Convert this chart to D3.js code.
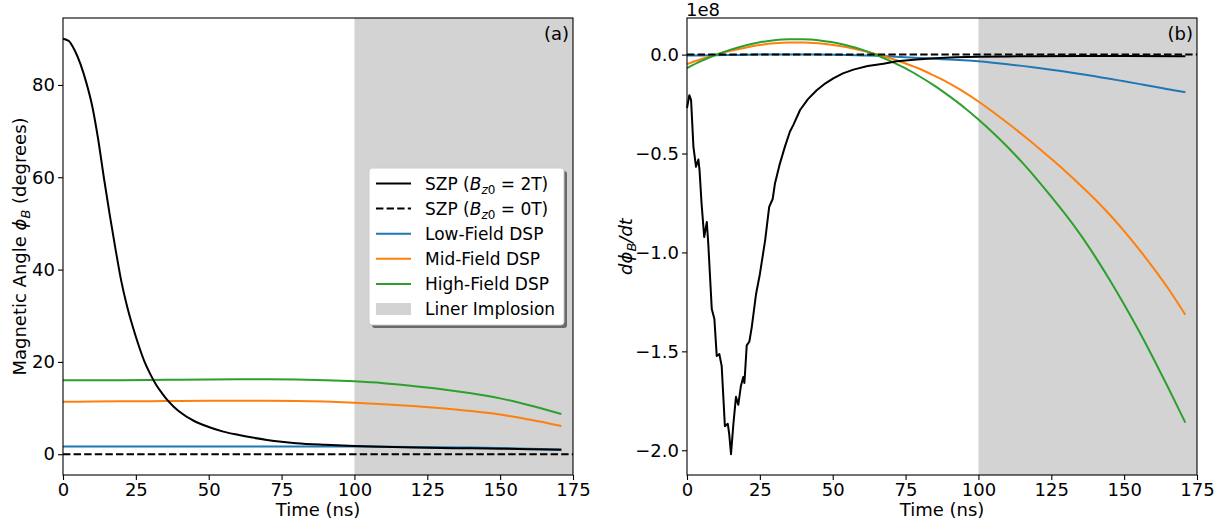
<!DOCTYPE html>
<html>
<head>
<meta charset="utf-8">
<script src="https://cdn.jsdelivr.net/npm/d3@7"></script>
<style>
  body { margin: 0; background: #fff; }
  svg { font-family: "DejaVu Sans", sans-serif; }
</style>
</head>
<body>
<svg id="chart" width="1226" height="522"></svg>
<script>
// ---- panel (a): magnetic angle (degrees) ----
const tSzp = [0, 2, 4, 6, 8, 10, 12, 14, 16, 18, 20, 22, 24, 26, 28, 30, 32, 34, 36, 38, 40,
              45, 50, 55, 60, 65, 70, 75, 80, 90, 100, 110, 120, 130, 140, 150, 160, 171];
const phiSzp = [90, 89.5, 87.5, 84.5, 80.5, 75.5, 68.5, 60, 52, 44.5, 37.5, 32, 27.5, 23.5, 20, 17.3,
                15.0, 13.2, 11.6, 10.3, 9.2, 7.2, 5.9, 4.9, 4.2, 3.6, 3.1, 2.7, 2.4, 2.05, 1.8, 1.6,
                1.45, 1.35, 1.28, 1.2, 1.1, 0.95];

const tDsp = [0, 10, 20, 30, 40, 50, 60, 70, 80, 90, 100, 110, 120, 130, 140, 150, 160, 171];
const phiLow  = [1.65, 1.65, 1.65, 1.65, 1.65, 1.65, 1.65, 1.65, 1.65, 1.65, 1.65, 1.6, 1.55, 1.5, 1.45, 1.35, 1.2, 1.0];
const phiMid  = [11.35, 11.4, 11.45, 11.5, 11.55, 11.6, 11.6, 11.6, 11.55, 11.4, 11.15, 10.85, 10.45, 9.95, 9.35, 8.6, 7.5, 6.1];
const phiHigh = [16.0, 16.0, 16.05, 16.1, 16.15, 16.2, 16.25, 16.25, 16.2, 16.05, 15.8, 15.4, 14.8, 14.1, 13.2, 12.1, 10.6, 8.7];

// ---- panel (b): d(phi)/dt, in units of 1e8 ----
const tDSzp = [0, 0.8, 1.4, 2.2, 3.1, 3.9, 4.3, 5.0, 5.9, 6.8, 7.3, 8.5, 9.4, 10.2, 11.1, 11.9, 13.0, 14.0,
               14.5, 15.1, 15.9, 16.8, 17.6, 18.5, 19.3, 19.7, 20.5, 21.4, 22.2, 23.7, 25.0, 26.8, 28.2,
               29.4, 30.2, 31.7, 33.6, 35.3, 36.5, 38.8, 41.5, 44.5, 47.5, 50.2, 53.5, 57.1, 62, 67.4,
               72, 78.8, 85, 92, 100, 110, 120, 135, 150, 171];
const dSzp = [-0.27, -0.205, -0.23, -0.465, -0.567, -0.53, -0.584, -0.753, -0.922, -0.846, -0.956, -1.286,
              -1.337, -1.523, -1.514, -1.574, -1.878, -1.866, -1.92, -2.02, -1.87, -1.73, -1.77, -1.675,
              -1.63, -1.66, -1.47, -1.45, -1.38, -1.21, -1.11, -0.94, -0.77, -0.73, -0.65, -0.56, -0.465,
              -0.39, -0.355, -0.28, -0.225, -0.18, -0.145, -0.12, -0.095, -0.076, -0.058, -0.046, -0.034,
              -0.025, -0.018, -0.014, -0.011, -0.009, -0.008, -0.007, -0.007, -0.008];

const tDDsp = [0, 5, 10, 15, 20, 25, 30, 35, 40, 45, 50, 55, 60, 65, 70, 75, 80, 85, 90, 95,
               100, 105, 110, 115, 120, 125, 130, 135, 140, 145, 150, 155, 160, 165, 171];
const dLow  = [-0.005, -0.004, -0.003, -0.002, -0.001, 0, 0, 0, 0, 0, -0.001, -0.002, -0.004, -0.006,
               -0.009, -0.013, -0.017, -0.021, -0.025, -0.029, -0.034, -0.041, -0.049, -0.057, -0.066,
               -0.076, -0.087, -0.098, -0.11, -0.122, -0.135, -0.148, -0.161, -0.175, -0.19];
const dMid  = [-0.048, -0.022, 0.0, 0.019, 0.035, 0.048, 0.057, 0.061, 0.061, 0.057, 0.049, 0.037, 0.021,
               0.002, -0.02, -0.045, -0.073, -0.108, -0.145, -0.188, -0.237, -0.29, -0.346, -0.404, -0.464,
               -0.527, -0.592, -0.66, -0.731, -0.808, -0.892, -0.982, -1.078, -1.18, -1.315];
const dHigh = [-0.068, -0.032, -0.001, 0.025, 0.046, 0.062, 0.073, 0.078, 0.078, 0.073, 0.062, 0.046, 0.025,
               -0.002, -0.034, -0.070, -0.112, -0.158, -0.210, -0.266, -0.328, -0.395, -0.467, -0.545, -0.629,
               -0.718, -0.81, -0.91, -1.02, -1.138, -1.263, -1.395, -1.535, -1.68, -1.86];

const xTicks = [0, 25, 50, 75, 100, 125, 150, 175];
const yTicksA = [0, 20, 40, 60, 80];
const yTicksB = [0, -0.5, -1.0, -1.5, -2.0];
const implosionStart = 100;

const blue = "#1f77b4", orange = "#ff7f0e", green = "#2ca02c";

const svg = d3.select("#chart");
const plotTop = 18, plotBottom = 475;

function zip(t, v) { return t.map((d, i) => [d, v[i]]); }

function drawPanel(x0, x1, yDomain, yTicks, yFmt, series, tag) {
    const x = d3.scaleLinear().domain([0, 175]).range([x0, x1]);
    const y = d3.scaleLinear().domain(yDomain).range([plotBottom, plotTop]);
    const g = svg.append("g");

    // liner implosion shading
    g.append("rect")
        .attr("x", x(implosionStart)).attr("y", plotTop)
        .attr("width", x(175) - x(implosionStart)).attr("height", plotBottom - plotTop)
        .attr("fill", "#d3d3d3");

    const line = d3.line().x(d => x(d[0])).y(d => y(d[1]));

    series.forEach(s => {
        g.append("path")
            .datum(zip(s.t, s.v))
            .attr("d", line.curve(s.smooth ? d3.curveMonotoneX : d3.curveLinear))
            .attr("fill", "none")
            .attr("stroke", s.color)
            .attr("stroke-width", 2)
            .attr("stroke-linejoin", "round");
    });

    // B_z0 = 0T reference
    g.append("line")
        .attr("x1", x0).attr("x2", x1)
        .attr("y1", y(0)).attr("y2", y(0))
        .attr("stroke", "#000").attr("stroke-width", 2)
        .attr("stroke-dasharray", "7.4,3.2");

    const xAxis = g.append("g")
        .attr("transform", `translate(0,${plotBottom})`)
        .call(d3.axisBottom(x).tickValues(xTicks).tickSize(5).tickPadding(3).tickSizeOuter(0));
    const yAxis = g.append("g")
        .attr("transform", `translate(${x0},0)`)
        .call(d3.axisLeft(y).tickValues(yTicks).tickFormat(yFmt).tickSize(5).tickPadding(3).tickSizeOuter(0));
    [xAxis, yAxis].forEach(a => {
        a.select(".domain").remove();
        a.selectAll("text").attr("font-size", 18).attr("font-family", "DejaVu Sans").attr("fill", "#000");
        a.selectAll("line").attr("stroke", "#000").attr("stroke-width", 1.1);
    });

    g.append("rect")
        .attr("x", x0).attr("y", plotTop)
        .attr("width", x1 - x0).attr("height", plotBottom - plotTop)
        .attr("fill", "none").attr("stroke", "#000").attr("stroke-width", 1.1);

    g.append("text")
        .attr("x", x1 - 4).attr("y", 40)
        .attr("text-anchor", "end").attr("font-size", 18)
        .text(tag);

    g.append("text")
        .attr("x", (x0 + x1) / 2).attr("y", 516)
        .attr("text-anchor", "middle").attr("font-size", 18)
        .text("Time (ns)");

    return { x, y, g };
}

// panel (a)
const pa = drawPanel(63, 573, [-4.5, 94.5], yTicksA, d3.format("d"), [
    { t: tDsp, v: phiLow, color: blue, smooth: true },
    { t: tDsp, v: phiMid, color: orange, smooth: true },
    { t: tDsp, v: phiHigh, color: green, smooth: true },
    { t: tSzp, v: phiSzp, color: "#000", smooth: true }
], "(a)");

// panel (b)
const pb = drawPanel(687, 1197, [-2.125, 0.185], yTicksB, d3.format(".1f"), [
    { t: tDDsp, v: dLow, color: blue, smooth: true },
    { t: tDDsp, v: dMid, color: orange, smooth: true },
    { t: tDDsp, v: dHigh, color: green, smooth: true },
    { t: tDSzp, v: dSzp, color: "#000", smooth: false }
], "(b)");

svg.append("text")
    .attr("x", 686).attr("y", 16).attr("font-size", 18)
    .text("1e8");

// y labels
const ylA = svg.append("text")
    .attr("transform", `translate(26,${(plotTop + plotBottom) / 2}) rotate(-90)`)
    .attr("text-anchor", "middle").attr("font-size", 18);
ylA.append("tspan").text("Magnetic Angle ");
ylA.append("tspan").attr("font-style", "italic").text("ϕ");
ylA.append("tspan").attr("font-style", "italic").attr("font-size", 13).attr("dy", 4).text("B");
ylA.append("tspan").attr("dy", -4).text(" (degrees)");

const ylB = svg.append("text")
    .attr("transform", `translate(632,${(plotTop + plotBottom) / 2}) rotate(-90)`)
    .attr("text-anchor", "middle").attr("font-size", 18).attr("font-style", "italic");
ylB.append("tspan").text("dϕ");
ylB.append("tspan").attr("font-size", 13).attr("dy", 4).text("B");
ylB.append("tspan").attr("dy", -4).text("/dt");

// legend
const legendItems = [
    { kind: "line", color: "#000", dash: null, label: "2T" },
    { kind: "line", color: "#000", dash: "7.4,3.2", label: "0T" },
    { kind: "line", color: blue, label: "Low-Field DSP" },
    { kind: "line", color: orange, label: "Mid-Field DSP" },
    { kind: "line", color: green, label: "High-Field DSP" },
    { kind: "patch", color: "#d3d3d3", label: "Liner Implosion" }
];
const lg = svg.append("g").attr("transform", "translate(369,168)");
lg.append("rect").attr("x", 3).attr("y", 3).attr("width", 195).attr("height", 157)
    .attr("rx", 3).attr("fill", "#000").attr("opacity", 0.5);
lg.append("rect").attr("x", 0).attr("y", 0).attr("width", 195).attr("height", 157)
    .attr("rx", 3).attr("fill", "#fff").attr("stroke", "#ccc").attr("stroke-width", 1);

legendItems.forEach((d, i) => {
    const cy = 15.5 + i * 25.1;
    if (d.kind === "line") {
        lg.append("line").attr("x1", 7).attr("x2", 42).attr("y1", cy).attr("y2", cy)
            .attr("stroke", d.color).attr("stroke-width", 2)
            .attr("stroke-dasharray", d.dash);
    } else {
        lg.append("rect").attr("x", 7).attr("y", cy - 6).attr("width", 35).attr("height", 12)
            .attr("fill", d.color);
    }
    const t = lg.append("text").attr("x", 56).attr("y", cy + 6).attr("font-size", 17);
    if (i < 2) {
        t.append("tspan").text("SZP (");
        t.append("tspan").attr("font-style", "italic").text("B");
        t.append("tspan").attr("font-style", "italic").attr("font-size", 12).attr("dy", 4).text("z");
        t.append("tspan").attr("font-size", 12).text("0");
        t.append("tspan").attr("dy", -4).text(" = " + d.label.replace("T", ""));
        t.append("tspan").text("T)");
    } else {
        t.text(d.label);
    }
});
</script>
</body>
</html>
